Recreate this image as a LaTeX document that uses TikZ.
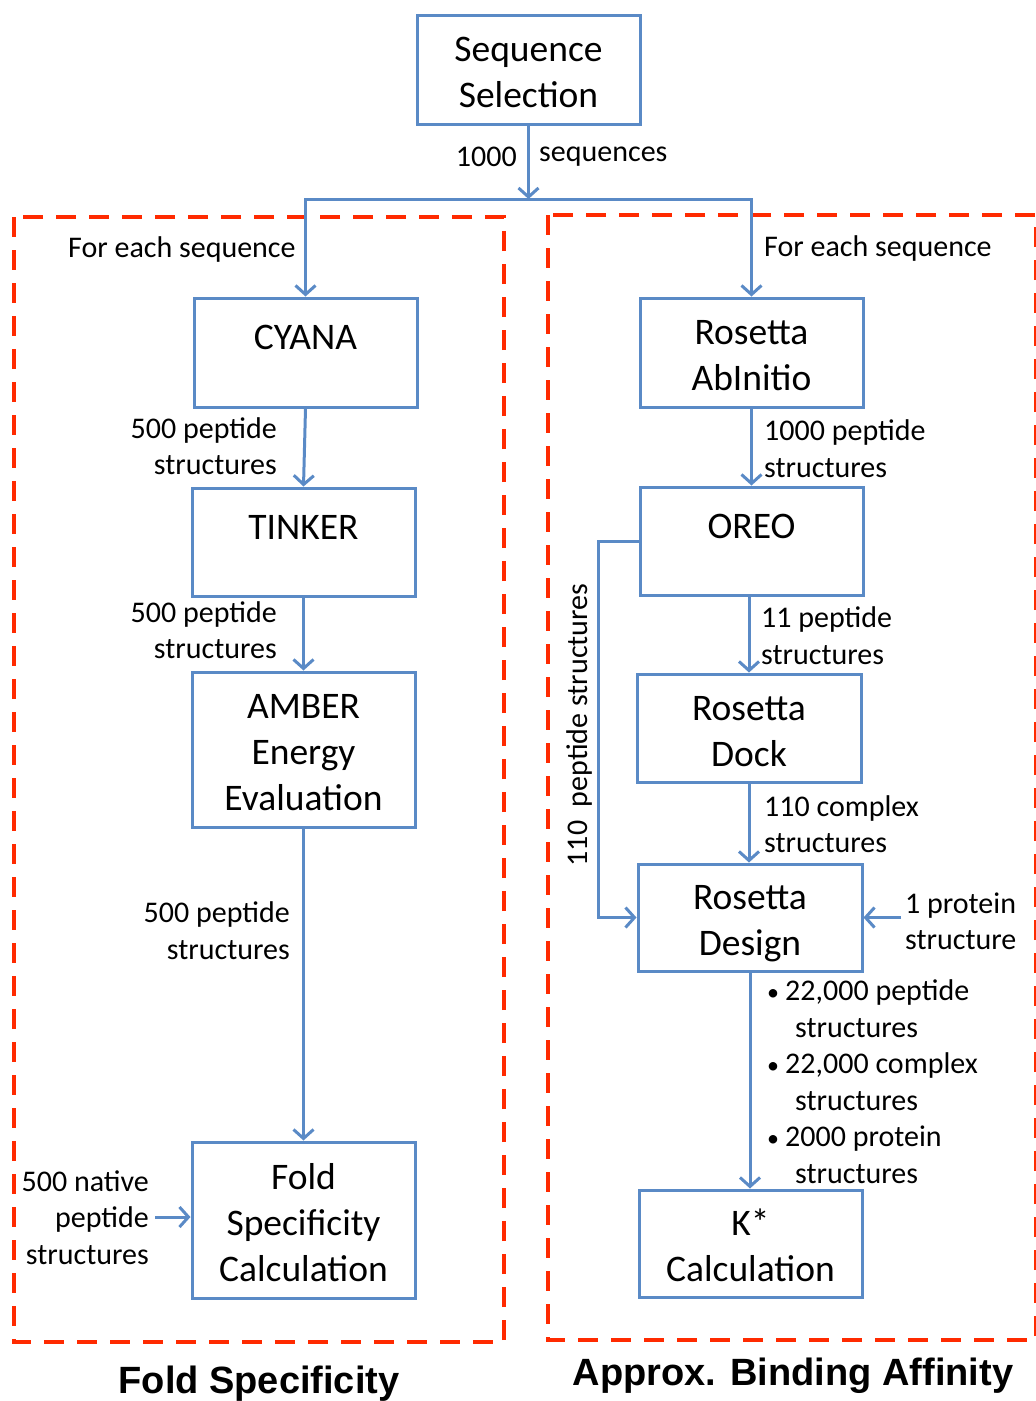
\documentclass[tikz,border=0pt]{standalone}
\usepackage{fontspec}
\setmainfont{Carlito}
\newfontfamily\titlefont{Liberation Sans}
\usetikzlibrary{arrows.meta}
\definecolor{boxblue}{HTML}{5A8AC6}
\definecolor{dashred}{HTML}{FF2A00}
\newcommand\tstrut{\rule{0pt}{\dimexpr0.7\baselineskip+12pt\relax}}
\begin{document}
\begin{tikzpicture}[x=1pt,y=-1pt,
  proc/.style={draw=boxblue, line width=3pt, minimum width=223pt, align=center, inner sep=0pt,
    font=\fontsize{37.5}{46}\selectfont},
  flow/.style={draw=boxblue, line width=3pt, -{Straight Barb[length=9pt,width=20pt,line width=3pt]}},
  lbl/.style={inner sep=0pt, font=\fontsize{30}{36.5}\selectfont},
  region/.style={draw=dashred, line width=4pt, dash pattern=on 20pt off 13pt},
  ttl/.style={inner sep=0pt, font=\titlefont\bfseries\fontsize{38}{44}\selectfont}]
\useasboundingbox (0,0) rectangle (1036,1401);

% dashed regions
\draw[region] (14,217) rectangle (504,1342);
\draw[region] (548,215) rectangle (1036,1340);

% boxes
\node[proc, minimum height=109pt] (seq) at (528.5,69.5) {\tstrut Sequence\\Selection\strut};
\node[proc, minimum height=109pt] (cyana) at (305.5,352.5) {\tstrut CYANA\\[-10pt]\strut};
\node[proc, minimum height=108pt] (tinker) at (303.5,542) {\tstrut TINKER\\[-10pt]\strut};
\node[proc, minimum height=155pt] (amber) at (303.5,749.5) {\tstrut AMBER\\Energy\\Evaluation\strut};
\node[proc, minimum height=156pt] (fold) at (303.5,1220) {\tstrut Fold\\Specificity\\Calculation\strut};
\node[proc, minimum height=109pt] (abinit) at (751.5,352.5) {\tstrut Rosetta\\AbInitio\strut};
\node[proc, minimum height=108pt] (oreo) at (751.5,541) {\tstrut OREO\\[-10pt]\strut};
\node[proc, minimum height=108pt, minimum width=224pt] (dock) at (749,728) {\tstrut Rosetta\\Dock\strut};
\node[proc, minimum height=107pt, minimum width=224pt] (design) at (750,917.5) {\tstrut Rosetta\\Design\strut};
\node[proc, minimum height=107pt] (kstar) at (750.5,1243.5) {\tstrut K*\\Calculation\strut};

% free ends
\coordinate (split) at (528.5,199);
\coordinate (prot) at (901,917.5);
\coordinate (nat) at (155,1217);

% connectors
\draw[flow] (seq.south) -- (split);
\draw[flow] (split) -| (cyana.north);
\draw[flow] (split) -| (abinit.north);
\draw[flow] (cyana.south) -- (tinker.north);
\draw[flow] (tinker.south) -- (amber.north);
\draw[flow] (amber.south) -- (fold.north);
\draw[flow] (nat) -- (fold.west |- nat);
\draw[flow] (abinit.south) -- (oreo.north);
\draw[flow] (oreo.south -| dock.north) -- (dock.north);
\draw[flow] (dock.south) -- (dock.south |- design.north);
\draw[flow] (oreo.west) -- ++(-40,0) |- (design.west);
\draw[flow] (prot) -- (design.east);
\draw[flow] (design.south) -- (design.south |- kstar.north);

% labels
\node[lbl, anchor=east] (n1000) at (517,157) {1000};
\node[lbl, anchor=west] (nseq) at (539,157) {sequences};
\node[lbl, anchor=west] (fe1) at (68,249) {For each sequence};
\node[lbl, anchor=west] (fe2) at (764,248) {For each sequence};
\node[lbl, anchor=east, align=right] (l1) at (277,449) {\strut 500 peptide\\structures\strut};
\node[lbl, anchor=east, align=right] (l2) at (277,633) {\strut 500 peptide\\structures\strut};
\node[lbl, anchor=east, align=right] (l3) at (290,933.5) {\strut 500 peptide\\structures\strut};
\node[lbl, anchor=east, align=right] (l4) at (149,1220.5) {\strut 500 native\\peptide\\structures\strut};
\node[lbl, anchor=west, align=left] (r1) at (764,451.5) {\strut 1000 peptide\\structures\strut};
\node[lbl, anchor=west, align=left] (r2) at (761,638.5) {\strut 11 peptide\\structures\strut};
\node[lbl, anchor=west, align=left] (r3) at (764,827) {\strut 110 complex\\structures\strut};
\node[lbl, anchor=west, align=left] (r4) at (905,924) {\strut 1 protein\\structure\strut};
\node[lbl, anchor=west, align=left] (bl) at (767,1084.5) {\strut\makebox[18pt][l]{\fontsize{24}{24}\selectfont•}22,000 peptide\\\hspace*{28pt}structures\\\makebox[18pt][l]{\fontsize{24}{24}\selectfont•}22,000 complex\\\hspace*{28pt}structures\\\makebox[18pt][l]{\fontsize{24}{24}\selectfont•}2000 protein\\\hspace*{28pt}structures\strut};
\node[lbl, rotate=90] (rot) at (579,725) {110\ \ peptide structures};

% titles
\node[ttl, anchor=base] (t1) at (259,1393) {Fold Specificity};
\node[ttl, anchor=base] (t2) at (793,1385) {Approx. Binding Affinity};
\end{tikzpicture}
\end{document}
